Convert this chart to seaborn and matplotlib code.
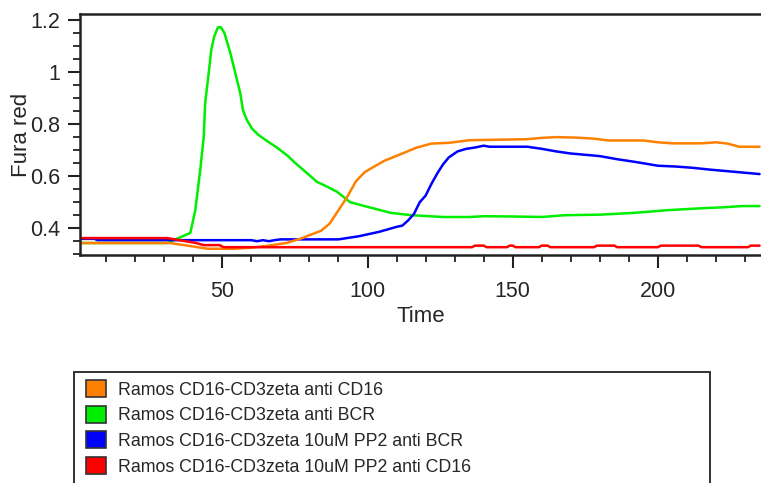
import matplotlib.pyplot as plt
import matplotlib.ticker as mticker
from matplotlib.patches import Patch, Rectangle
import seaborn as sns
import pandas as pd

# values
labels = ['Ramos CD16-CD3zeta anti CD16', 'Ramos CD16-CD3zeta anti BCR',
          'Ramos CD16-CD3zeta 10uM PP2 anti BCR', 'Ramos CD16-CD3zeta 10uM PP2 anti CD16']
colors = ['#ff8000', '#00ee00', '#0000ff', '#ff0000']

t_orange = [1, 32, 38, 45, 54, 60, 66, 72, 77, 80, 84, 87, 90, 93, 96, 99, 102, 106, 112, 117,
            122, 128, 135, 145, 155, 160, 165, 172, 178, 183, 195, 200, 205, 215, 220, 224, 228, 235]
v_orange = [.343, .343, .333, .321, .321, .325, .333, .343, .36, .373, .39, .418, .469, .52, .58, .615,
            .635, .66, .687, .71, .725, .728, .738, .740, .742, .747, .750, .748, .744, .737, .737, .730,
            .726, .726, .73, .725, .713, .713]

t_green = [1, 31, 39, 40.7, 42.4, 43.6, 44.1, 45.3, 46.2, 47.2, 48.5, 49.5, 50.7, 52.8, 54.5, 56.2,
           57.1, 58.5, 60.2, 62.5, 65.4, 68.8, 72.3, 75.7, 78, 82.6, 86, 89.5, 94, 100, 108, 115, 126,
           135, 140, 150, 160, 168, 180, 192, 203, 214, 222, 229, 235]
v_green = [.343, .343, .382, .469, .623, .751, .88, .995, 1.085, 1.136, 1.172, 1.172, 1.151, 1.072,
           .995, .918, .854, .815, .783, .758, .735, .71, .68, .645, .623, .578, .56, .54, .50, .482,
           .459, .45, .443, .443, .446, .445, .443, .45, .452, .459, .469, .476, .48, .485, .485]

t_blue = [1, 6, 7, 60, 62, 64, 66, 68, 70, 90, 97, 104, 110, 112, 114, 116, 118, 120, 122, 124, 126,
          128, 131, 134, 137, 140, 142, 155, 160, 165, 170, 180, 186, 192, 200, 206, 212, 218, 224,
          230, 235]
v_blue = [.359, .359, .354, .354, .35, .354, .35, .354, .357, .357, .369, .386, .405, .41, .43, .455,
          .50, .525, .57, .61, .645, .672, .695, .705, .71, .717, .713, .713, .705, .695, .687, .677,
          .665, .655, .64, .637, .632, .625, .619, .613, .608]

t_red = [1, 31, 41, 43.5, 49, 50.5, 136, 137, 140, 141, 148, 149, 150, 151, 159, 160, 162, 163, 178,
         179, 185, 186, 200, 201, 214, 215, 231, 232, 235]
v_red = [.362, .362, .343, .335, .335, .327, .327, .333, .333, .327, .327, .333, .333, .327, .327,
         .333, .333, .327, .327, .333, .333, .327, .327, .333, .333, .327, .327, .333, .333]

series = [(t_orange, v_orange), (t_green, v_green), (t_blue, v_blue), (t_red, v_red)]
frames = [pd.DataFrame({'Time': t, 'Fura red': v, 'sample': lab})
          for (t, v), lab in zip(series, labels)]
df = pd.concat(frames, ignore_index=True)

sns.set_style('ticks')
plt.rcParams['font.family'] = ['Liberation Sans', 'DejaVu Sans']

fig = plt.figure(figsize=(7.61, 4.83), dpi=100)
ax = fig.add_axes([80 / 761, 1 - 255 / 483, 1 - 80 / 761, (255 - 14) / 483])

draw_order = [1, 2, 0, 3]
for i in draw_order:
    sub = df[df['sample'] == labels[i]]
    sns.lineplot(data=sub, x='Time', y='Fura red', color=colors[i], lw=1.8,
                 ax=ax, legend=False, estimator=None, sort=False)

ax.set_xlim(1, 235.5)
ax.set_ylim(0.297, 1.223)
ax.xaxis.set_major_locator(mticker.MultipleLocator(50))
ax.xaxis.set_minor_locator(mticker.MultipleLocator(10))
ax.yaxis.set_major_locator(mticker.MultipleLocator(0.2))
ax.yaxis.set_minor_locator(mticker.MultipleLocator(0.05))
ax.yaxis.set_major_formatter(mticker.FormatStrFormatter('%g'))
ax.tick_params(which='major', length=9, width=1.5, labelsize=15.5, color='#222222')
ax.tick_params(which='minor', length=5, width=1.3, color='#222222')
ax.tick_params(axis='x', pad=10)
ax.tick_params(axis='y', pad=5)
ax.set_xlabel('Time', fontsize=16, labelpad=2.5)
ax.set_ylabel('Fura red', fontsize=16, labelpad=-1)
for s in ['left', 'bottom', 'top']:
    ax.spines[s].set_linewidth(1.8)
    ax.spines[s].set_color('#222222')
ax.spines['right'].set_visible(False)

# legend box runs past the bottom edge, as in the reference
fig.patches.append(Rectangle((74 / 761, -0.05), 636 / 761, 0.05 + 1 - 372 / 483,
                             transform=fig.transFigure, fill=False, edgecolor='#222222', lw=1.3))
handles = [Patch(facecolor=c, edgecolor='#333333', lw=1.2) for c in colors]
fig.legend(handles, labels, loc='upper left', bbox_to_anchor=(78 / 761, 1 - 372 / 483),
           borderaxespad=0, fontsize=12.8, handlelength=1.1, handleheight=1.1,
           handletextpad=0.7, labelspacing=0.4, borderpad=0.45, frameon=False)

fig.savefig('out.png', dpi=100)
